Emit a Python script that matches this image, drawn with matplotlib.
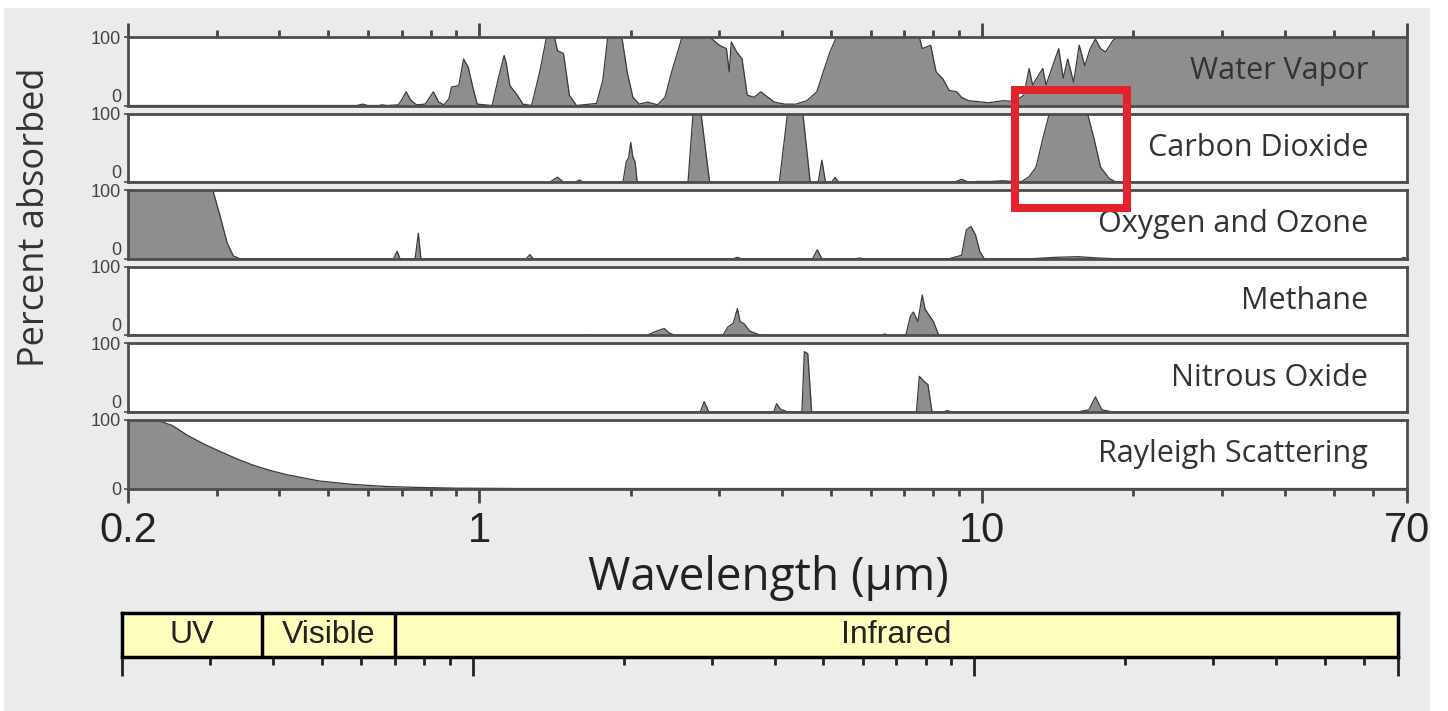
import matplotlib.pyplot as plt
import matplotlib.transforms as mtransforms
from matplotlib.patches import Rectangle
from matplotlib.ticker import NullFormatter

# absorption spectra: wavelength (um), percent absorbed
h2o_wl = [0.2, 0.57, 0.586, 0.60, 0.63, 0.64, 0.655, 0.69, 0.70, 0.715, 0.73, 0.75, 0.78, 0.79, 0.81,
          0.83, 0.85, 0.87, 0.88, 0.91, 0.93, 0.95, 0.97, 0.99, 1.06, 1.09, 1.12, 1.13, 1.15, 1.19,
          1.22, 1.27, 1.32, 1.36, 1.41, 1.43, 1.47, 1.51, 1.56, 1.71, 1.76, 1.80, 1.92, 1.97, 2.02,
          2.08, 2.16, 2.26, 2.34, 2.41, 2.53, 2.87, 3.0, 3.10, 3.14, 3.17, 3.25, 3.33, 3.41, 3.52,
          3.63, 3.75, 3.86, 4.04, 4.26, 4.48, 4.69, 4.83, 4.98, 5.13, 7.5, 7.6, 7.9, 8.1, 8.35,
          8.6, 8.9, 9.1, 9.4, 9.7, 10.3, 11.0, 11.6, 12.1, 12.4, 12.6, 13.2, 13.4, 14.2, 14.5,
          14.8, 15.2, 15.6, 16.0, 16.4, 16.8, 17.2, 17.6, 18.2, 18.7, 70]
h2o_pct = [0, 0, 2, 0, 0, 1, 0, 1, 8, 20, 8, 1, 2, 8, 20,
           5, 1, 10, 27, 29, 68, 56, 27, 2, 0, 39, 73, 63, 29, 15,
           2, 0, 51, 100, 100, 80, 76, 15, 0, 3, 37, 100, 100, 47, 12,
           2, 5, 1, 12, 48, 100, 100, 88, 83, 49, 93, 78, 68, 15, 12,
           20, 12, 5, 2, 2, 7, 20, 49, 78, 100, 100, 83, 88, 49, 39,
           22, 20, 12, 7, 6, 4, 7, 6, 15, 54, 30, 54, 30, 83, 40,
           68, 34, 88, 58, 83, 97, 83, 78, 95, 100, 100]

co2_wl = [0.2, 1.38, 1.43, 1.47, 1.55, 1.58, 1.61, 1.93, 1.96, 1.98, 2.0, 2.02, 2.04, 2.06, 2.6,
          2.66, 2.76, 2.87, 3.95, 4.1, 4.4, 4.55, 4.72, 4.8, 4.88, 5.02, 5.1, 5.18, 8.8, 9.1,
          9.4, 9.8, 10.4, 11.0, 11.5, 12.0, 12.4, 12.8, 13.2, 13.6, 16.2, 16.7, 17.2, 17.9, 18.5, 70]
co2_pct = [0, 0, 7, 0, 0, 3, 0, 0, 30, 35, 58, 36, 30, 0, 0,
           100, 100, 0, 0, 100, 100, 0, 0, 32, 0, 0, 7, 0, 0, 4,
           0, 1, 1, 2, 1, 1, 8, 22, 63, 100, 100, 63, 22, 5, 0, 0]

o3_wl = [0.2, 0.295, 0.305, 0.315, 0.324, 0.334, 0.675, 0.686, 0.695, 0.745, 0.756, 0.765, 1.24,
         1.26, 1.28, 3.2, 3.26, 3.32, 4.6, 4.7, 4.8, 5.6, 5.7, 5.8, 8.6, 9.0, 9.1, 9.3, 9.5, 9.7,
         9.9, 10.1, 12.5, 14.0, 15.5, 17.0, 18.5, 68, 69, 70]
o3_pct = [100, 100, 62, 23, 4, 0, 0, 11, 0, 0, 37, 0, 0,
          6, 0, 0, 2, 0, 0, 13, 0, 0, 1, 0, 0, 4, 5, 42, 47, 35,
          10, 0, 0, 2, 3, 1, 0, 0, 2, 0]

ch4_wl = [0.2, 1.6, 1.63, 1.66, 2.15, 2.25, 2.33, 2.39, 2.45, 3.05, 3.12, 3.2, 3.26, 3.3, 3.36,
          3.45, 3.6, 3.7, 6.3, 6.4, 6.5, 7.05, 7.2, 7.3, 7.45, 7.6, 7.7, 7.8, 8.0, 8.2, 70]
ch4_pct = [0, 0, 1, 0, 0, 6, 10, 3, 0, 0, 12, 18, 39, 20, 17,
           6, 1, 0, 0, 2, 0, 0, 28, 34, 20, 59, 38, 32, 20, 0, 0]

n2o_wl = [0.2, 2.75, 2.8, 2.86, 3.85, 3.9, 3.97, 4.1, 4.38, 4.43, 4.5, 4.58, 7.4, 7.5, 7.65,
          7.8, 7.95, 8.4, 8.5, 8.7, 15.5, 16.3, 16.8, 17.3, 18.2, 70]
n2o_pct = [0, 0, 15, 0, 0, 12, 4, 0, 0, 88, 85, 0, 0, 52, 45,
           40, 0, 0, 2, 0, 0, 3, 22, 3, 0, 0]

ray_wl = [0.2, 0.228, 0.245, 0.262, 0.283, 0.305, 0.33, 0.355, 0.385, 0.415, 0.48, 0.56, 0.65,
          0.76, 0.9, 1.2, 70]
ray_pct = [100, 100, 92, 78, 65, 54, 43, 34, 26, 20, 11, 6, 3, 1.5, 0.5, 0, 0]

names = ["Water Vapor", "Carbon Dioxide", "Oxygen and Ozone", "Methane",
         "Nitrous Oxide", "Rayleigh Scattering"]
spectra = [(h2o_wl, h2o_pct), (co2_wl, co2_pct), (o3_wl, o3_pct),
           (ch4_wl, ch4_pct), (n2o_wl, n2o_pct), (ray_wl, ray_pct)]

band_names = ["UV", "Visible", "Infrared"]
band_edges = [0.2, 0.38, 0.7, 70]

major_x = [0.2, 1, 10, 70]
major_lbl = ["0.2", "1", "10", "70"]
minor_x = [0.3, 0.4, 0.5, 0.6, 0.7, 0.8, 0.9, 2, 3, 4, 5, 6, 7, 8, 9, 20, 30, 40, 50, 60]

W, H = 1448, 711
fig = plt.figure(figsize=(W / 100, H / 100), dpi=100)
fig.patch.set_facecolor('white')
fig.add_artist(Rectangle((4 / W, 0), 1426 / W, 703 / H, transform=fig.transFigure,
                         facecolor='#ebebeb', edgecolor='none', zorder=-10))

x0, x1 = 128, 1407
top0, pitch, ph = 37, 76.6, 68.5
axes = []
for i, (name, (wl, pct)) in enumerate(zip(names, spectra)):
    top = top0 + i * pitch
    ax = fig.add_axes([x0 / W, 1 - (top + ph) / H, (x1 - x0) / W, ph / H])
    ax.set_xscale('log')
    ax.set_xlim(0.2, 70)
    ax.set_ylim(0, 100)
    ax.fill_between(wl, pct, 0, color='#8e8e8e', lw=0)
    ax.plot(wl, pct, color='#3a3a3a', lw=0.9)
    for s in ax.spines.values():
        s.set_color('#4d4d4d')
        s.set_linewidth(2)
    ax.text(0.9695, 0.5, name, transform=ax.transAxes, ha='right', va='center',
            fontsize=22, family='Open Sans', color='#333333')

    ax.set_yticks([0, 100])
    ax.set_yticklabels(['0', '100'], fontsize=13, family='Liberation Sans', color='#444444')
    ax.tick_params(axis='y', length=3, width=1.2, color='#4d4d4d', pad=2)
    if i < 5:
        ax.get_yticklabels()[0].set_verticalalignment('bottom')

    ax.set_xticks(major_x)
    ax.set_xticks(minor_x, minor=True)
    ax.xaxis.set_minor_formatter(NullFormatter())
    if i == 0:
        ax.xaxis.set_ticks_position('top')
        ax.tick_params(axis='x', which='both', direction='out', labeltop=False,
                       color='#444444', width=2)
        ax.tick_params(axis='x', which='major', length=10)
        ax.tick_params(axis='x', which='minor', length=5)
    elif i == 5:
        ax.set_xticklabels(major_lbl, fontsize=30, family='Liberation Sans', color='#222222')
        ax.tick_params(axis='x', which='both', direction='out', color='#444444', width=2)
        ax.tick_params(axis='x', which='major', length=10, pad=6)
        ax.tick_params(axis='x', which='minor', length=5)
    else:
        ax.tick_params(axis='x', which='both', bottom=False, top=False, labelbottom=False)
    axes.append(ax)

# red box around the 15 um CO2 band
ax_co2 = axes[1]
trans = mtransforms.blended_transform_factory(ax_co2.transData, ax_co2.transAxes)
fig.add_artist(Rectangle((11.6, -0.38), 19.4 - 11.6, 1.72, transform=trans,
                         fill=False, edgecolor='#e3222b', lw=5.8, zorder=10))

fig.text(35 / W, 1 - 217 / H, "Percent absorbed", rotation=90, ha='center', va='center',
         fontsize=26, family='Open Sans', color='#333333')
fig.text(768 / W, 1 - 578 / H, "Wavelength (\u03bcm)", ha='center', va='center',
         fontsize=33, family='Open Sans', color='#222222')

# spectral band bar
bx = fig.add_axes([122 / W, 1 - 657 / H, 1276 / W, 44 / H])
bx.set_xscale('log')
bx.set_xlim(0.2, 70)
bx.set_ylim(0, 1)
bx.set_facecolor('#ffffbe')
for e in band_edges[1:-1]:
    bx.axvline(e, color='black', lw=2.5)
for k, nm in enumerate(band_names):
    a, b = band_edges[k], band_edges[k + 1]
    bx.text((a * b) ** 0.5, 0.5, nm, ha='center', va='center', fontsize=23,
            family='Liberation Sans', color='#222222')
for s in bx.spines.values():
    s.set_color('black')
    s.set_linewidth(2.5)
bx.set_yticks([])
bx.set_xticks([0.2, 1, 10, 70])
bx.set_xticks(minor_x, minor=True)
bx.xaxis.set_major_formatter(NullFormatter())
bx.xaxis.set_minor_formatter(NullFormatter())
bx.tick_params(axis='x', which='both', direction='out', color='#222222', width=2)
bx.tick_params(axis='x', which='major', length=14)
bx.tick_params(axis='x', which='minor', length=6)

fig.savefig('out.png', dpi=100, facecolor=fig.get_facecolor())
